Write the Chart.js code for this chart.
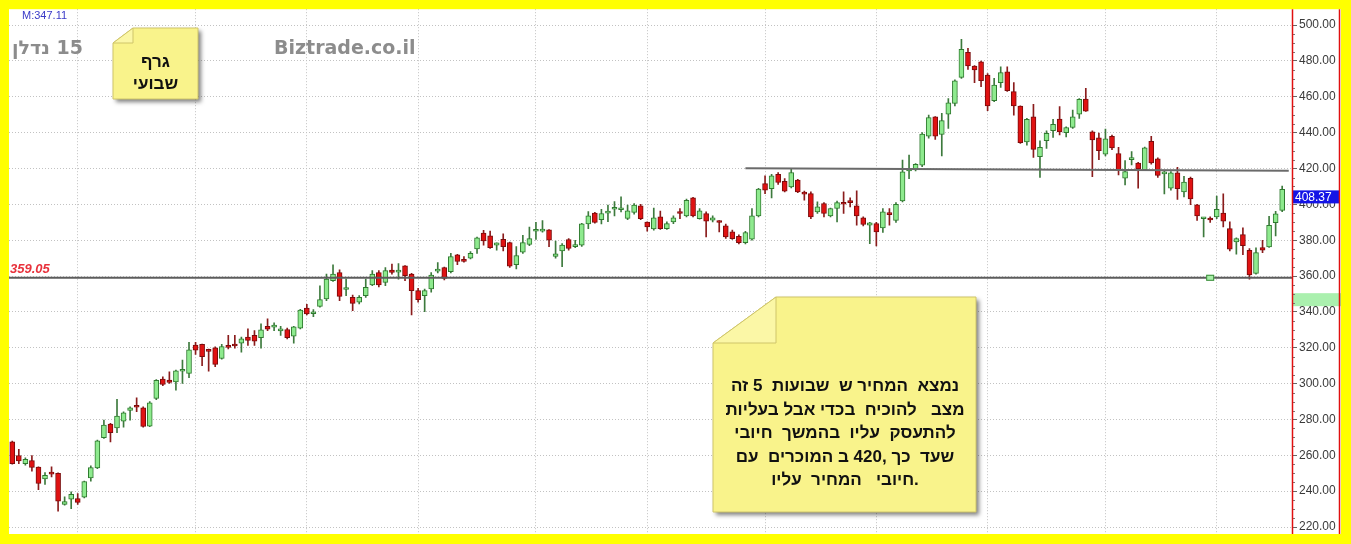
<!DOCTYPE html>
<html>
<head>
<meta charset="utf-8">
<script src="https://cdn.jsdelivr.net/npm/chart.js@4/dist/chart.umd.min.js"></script>
<style>
  html, body { margin: 0; padding: 0; background: #ffff00; }
  #wrap { position: relative; width: 1351px; height: 544px; overflow: hidden; background: #ffff00; }
  #chart { position: absolute; left: 0; top: 0; }
  .label { position: absolute; white-space: pre; }
  .title { font-family: 'DejaVu Sans', sans-serif; font-weight: bold; font-size: 19px; color: #8c8c8c; line-height: 22px; text-align: left; }
  .note { font-family: 'Liberation Sans', Arial, sans-serif; font-weight: bold; color: #111; text-align: center; }
</style>
</head>
<body>
<div id="wrap">
  <canvas id="chart" width="1351" height="544"></canvas>
  <div id="title" class="label title" dir="rtl" style="left:12px; top:36px;"></div>
  <div id="site" class="label title" dir="ltr" style="left:274px; top:36px;"></div>
  <div id="note1" class="label note" dir="rtl" style="left:113px; top:51px; width:85px; font-size:17px; line-height:21.5px;"></div>
  <div id="note2" class="label note" dir="rtl" style="left:713px; top:374px; width:264px; font-size:17px; line-height:23.5px;"></div>
</div>
<script>
// weekly candles
const opens = [
  267.5, 259.9, 255.4, 257.1, 253.4, 246.9, 250.0, 250.0, 232.6, 235.5,
  235.9, 236.7, 247.4, 253.0, 269.8, 277.4, 275.3, 279.1, 285.0, 287.3,
  286.5, 276.3, 291.7, 302.5, 302.0, 301.0, 306.9, 305.7, 321.5, 321.9,
  319.0, 320.0, 314.0, 321.3, 322.0, 322.6, 325.9, 326.9, 325.7, 332.0,
  331.5, 329.4, 330.2, 326.5, 330.9, 342.2, 339.0, 343.1, 347.2, 357.4,
  362.0, 352.5, 348.1, 345.4, 349.1, 355.0, 362.0, 356.5, 363.3, 362.2,
  365.7, 361.1, 351.9, 349.1, 352.8, 362.8, 364.7, 362.4, 371.8, 369.1,
  370.0, 375.1, 384.0, 382.4, 377.3, 380.5, 378.7, 366.4, 373.3, 377.6,
  385.0, 385.1, 385.8, 370.9, 374.0, 380.4, 376.4, 377.3, 389.1, 395.1,
  391.5, 395.1, 397.3, 397.0, 392.2, 395.5, 399.2, 390.1, 386.3, 393.0,
  386.5, 390.2, 395.8, 393.6, 403.6, 392.1, 394.9, 391.2, 390.6, 388.0,
  384.7, 382.2, 378.7, 380.6, 393.6, 411.6, 408.8, 416.7, 412.9, 409.8,
  413.5, 406.4, 406.0, 395.8, 400.5, 393.6, 397.7, 401.0, 401.5, 399.2,
  392.5, 388.4, 389.3, 386.9, 395.4, 391.0, 402.0, 418.7, 419.5, 421.9,
  438.1, 448.9, 439.0, 450.4, 456.4, 470.9, 484.8, 477.2, 479.6, 472.2,
  457.8, 467.9, 474.0, 462.9, 454.9, 434.9, 448.9, 426.6, 435.5, 441.1,
  447.6, 440.0, 442.9, 450.4, 458.7, 440.5, 437.1, 428.0, 438.0, 428.4,
  414.6, 425.0, 423.1, 419.4, 435.2, 425.4, 417.0, 409.1, 417.6, 406.9,
  414.6, 399.8, 392.0, 392.0, 393.0, 395.2, 386.5, 379.1, 383.1, 374.4,
  361.5, 375.9, 376.3, 389.8, 396.7
];
const highs = [
  268.0, 263.3, 258.6, 259.9, 253.6, 250.4, 253.6, 250.2, 236.8, 239.6,
  238.7, 245.6, 254.1, 268.5, 279.6, 277.8, 291.2, 284.3, 287.0, 292.1,
  287.0, 290.0, 302.3, 303.8, 306.6, 307.5, 313.1, 323.0, 323.0, 322.0,
  319.3, 320.5, 321.9, 326.9, 326.9, 326.0, 330.6, 329.6, 333.3, 336.1,
  333.9, 332.0, 331.0, 332.0, 341.5, 344.3, 341.3, 354.6, 361.1, 366.3,
  363.5, 358.3, 349.4, 349.1, 358.3, 363.0, 363.0, 364.8, 366.7, 367.0,
  365.9, 361.5, 353.1, 352.8, 362.0, 367.5, 365.0, 372.7, 372.2, 370.9,
  373.6, 381.8, 385.5, 385.1, 378.6, 383.6, 379.0, 376.4, 382.7, 387.3,
  390.0, 390.9, 386.0, 379.5, 378.2, 380.9, 380.0, 389.5, 396.0, 395.5,
  397.3, 399.6, 401.5, 404.2, 399.6, 400.5, 400.0, 390.2, 398.0, 396.2,
  390.2, 393.6, 397.7, 403.0, 404.0, 397.7, 395.8, 393.6, 391.0, 389.0,
  385.6, 383.0, 385.0, 397.7, 409.0, 415.9, 416.7, 417.8, 414.4, 420.0,
  414.0, 407.4, 407.0, 401.4, 401.0, 398.0, 401.8, 407.0, 403.6, 407.5,
  393.0, 390.0, 390.0, 397.7, 397.7, 401.0, 424.7, 427.5, 422.8, 440.0,
  449.8, 449.0, 450.8, 459.1, 469.5, 492.1, 487.1, 477.5, 480.0, 473.0,
  470.3, 476.8, 476.8, 467.9, 455.0, 448.0, 455.8, 435.5, 441.1, 447.4,
  454.5, 443.3, 452.6, 459.0, 464.7, 441.0, 439.8, 442.0, 438.7, 431.9,
  424.4, 429.4, 423.5, 432.0, 438.0, 426.0, 418.5, 418.3, 420.7, 415.7,
  415.2, 400.0, 392.6, 393.0, 404.6, 405.9, 390.2, 381.3, 386.9, 375.4,
  375.7, 380.0, 393.3, 396.1, 410.2
];
const lows = [
  255.0, 255.4, 254.5, 251.2, 240.9, 243.7, 248.0, 228.8, 232.2, 230.3,
  232.6, 236.2, 245.6, 252.5, 269.4, 267.5, 272.6, 275.7, 279.6, 284.3,
  275.7, 276.0, 291.0, 298.8, 300.1, 296.4, 300.1, 303.3, 316.3, 310.0,
  307.0, 309.5, 313.7, 319.4, 319.8, 317.6, 321.3, 321.3, 319.8, 329.6,
  329.6, 326.9, 325.0, 322.6, 330.5, 338.3, 337.4, 342.6, 346.3, 357.0,
  346.3, 349.1, 340.7, 344.4, 348.1, 354.6, 354.0, 354.6, 361.1, 358.3,
  357.4, 338.3, 345.4, 340.2, 351.0, 361.7, 357.8, 361.8, 366.4, 367.8,
  369.6, 372.7, 377.3, 375.5, 374.5, 374.0, 364.9, 364.0, 372.7, 376.9,
  380.5, 384.5, 376.4, 370.0, 365.3, 374.5, 375.8, 376.5, 386.4, 389.5,
  389.1, 390.4, 393.6, 395.8, 391.5, 394.5, 391.5, 385.0, 385.6, 386.1,
  386.1, 389.3, 392.1, 393.0, 393.0, 391.7, 381.9, 390.2, 384.7, 381.0,
  380.5, 378.0, 378.0, 380.0, 393.0, 406.0, 403.6, 411.1, 407.0, 409.2,
  406.5, 402.3, 392.0, 394.9, 393.0, 393.0, 390.2, 394.9, 398.6, 388.4,
  388.0, 378.1, 376.8, 384.3, 388.4, 390.0, 401.4, 414.4, 418.7, 421.0,
  437.0, 436.2, 427.0, 442.4, 455.0, 470.3, 475.3, 467.9, 465.7, 452.3,
  457.3, 465.3, 463.0, 449.8, 434.0, 433.1, 426.2, 415.0, 431.2, 437.4,
  438.7, 437.7, 442.4, 448.0, 451.8, 415.5, 425.0, 427.0, 430.5, 416.5,
  410.9, 422.0, 409.1, 419.0, 422.5, 415.0, 405.9, 408.0, 402.8, 404.1,
  399.8, 391.1, 381.9, 390.0, 392.0, 387.4, 374.0, 372.2, 372.0, 358.3,
  361.0, 373.1, 376.0, 382.4, 396.0
];
const closes = [
  255.4, 256.9, 257.7, 253.2, 244.3, 248.9, 249.5, 234.4, 234.2, 238.3,
  233.7, 245.4, 253.2, 268.1, 276.8, 272.7, 281.9, 283.7, 286.5, 286.8,
  276.1, 289.3, 301.8, 299.5, 300.7, 307.2, 307.5, 318.9, 318.7, 315.0,
  318.0, 310.7, 320.7, 320.2, 321.0, 325.0, 324.1, 323.7, 330.0, 330.4,
  332.0, 330.6, 325.7, 331.7, 341.1, 338.9, 340.0, 346.9, 358.3, 361.1,
  348.7, 353.0, 344.8, 348.1, 353.7, 361.1, 355.0, 363.0, 362.0, 363.0,
  360.2, 351.9, 346.9, 351.9, 360.6, 363.8, 358.7, 370.9, 368.2, 368.2,
  372.7, 381.3, 379.6, 375.8, 378.5, 376.4, 365.5, 371.5, 378.7, 380.9,
  385.5, 385.8, 380.0, 372.4, 377.3, 375.5, 377.3, 389.1, 393.6, 390.0,
  394.9, 396.0, 398.2, 397.5, 396.4, 399.6, 392.0, 387.4, 392.5, 386.5,
  389.3, 392.5, 394.9, 402.3, 393.6, 396.4, 390.6, 392.5, 389.9, 381.9,
  380.9, 378.7, 384.3, 393.6, 408.5, 407.9, 415.9, 412.2, 407.4, 417.8,
  407.0, 405.7, 393.0, 398.6, 394.9, 397.7, 401.0, 400.1, 401.0, 393.6,
  388.8, 389.7, 384.7, 395.8, 394.3, 400.0, 418.2, 419.5, 422.3, 439.2,
  448.5, 438.1, 446.7, 456.7, 469.0, 486.5, 477.2, 475.0, 469.0, 454.9,
  466.6, 473.5, 463.4, 454.9, 434.4, 447.4, 430.7, 431.8, 439.6, 444.6,
  440.5, 442.9, 448.9, 458.6, 452.0, 435.9, 430.0, 436.6, 431.5, 419.0,
  418.3, 425.5, 419.8, 431.5, 423.1, 416.1, 418.0, 417.6, 408.7, 412.4,
  403.1, 393.5, 392.5, 391.3, 397.2, 390.6, 375.0, 380.9, 376.9, 360.6,
  373.1, 374.4, 388.3, 394.8, 408.37
];

// one spare slot on the right, like the original
const weeks = Array.from({ length: opens.length + 1 }, (_, i) => 'W' + (i + 1));
const gridWeeks = [10, 28, 45, 62, 80, 97, 115, 132, 149, 167, 184];
const yTicks = [220, 240, 260, 280, 300, 320, 340, 360, 380, 400, 420, 440, 460, 480, 500];

const supportLevel = 359.05;
const supportMarkWeek = 183;
const resistance = [{ week: 112, price: 420.1 }, { week: 195, price: 418.8 }];
const lastPrice = 408.37;
const markPrice = 347.11;

// texts in logical (right-to-left) order
const titleText = '15 נדלן';
const siteText = 'Biztrade.co.il';
const note1Lines = ['גרף', 'שבועי'];
const note2Lines = [
  'נמצא  המחיר ש  שבועות  5 זה',
  'מצב   להוכיח  בכדי אבל בעליות',
  'להתעסק  עליו  בהמשך  חיובי',
  'שעד  כך ,420 ב המוכרים  עם',
  '.חיובי   המחיר  עליו'
];

document.getElementById('title').textContent = titleText;
document.getElementById('site').textContent = siteText;
document.getElementById('note1').textContent = note1Lines.join('\n');
document.getElementById('note2').textContent = note2Lines.join('\n');

const up = closes.map((c, i) => c >= opens[i]);

function drawNote(ctx, x, y, w, h, fold) {
  ctx.save();
  ctx.beginPath();
  ctx.moveTo(x, y + fold.h);
  ctx.lineTo(x + fold.w, y);
  ctx.lineTo(x + w, y);
  ctx.lineTo(x + w, y + h);
  ctx.lineTo(x, y + h);
  ctx.closePath();
  ctx.shadowColor = 'rgba(0,0,0,0.5)';
  ctx.shadowBlur = 4;
  ctx.shadowOffsetX = 3;
  ctx.shadowOffsetY = 3;
  ctx.fillStyle = '#f9f38b';
  ctx.fill();
  ctx.shadowColor = 'transparent';
  ctx.strokeStyle = '#cfc56a';
  ctx.lineWidth = 1;
  ctx.stroke();
  // folded corner
  ctx.beginPath();
  ctx.moveTo(x, y + fold.h);
  ctx.lineTo(x + fold.w, y);
  ctx.lineTo(x + fold.w, y + fold.h);
  ctx.closePath();
  ctx.fillStyle = '#fbf7a6';
  ctx.fill();
  ctx.stroke();
  ctx.restore();
}

const extras = {
  id: 'extras',
  beforeDraw(chart) {
    const { ctx, chartArea: a, scales: { y } } = chart;
    ctx.save();
    ctx.fillStyle = '#ffffff';
    ctx.fillRect(a.left, a.top, y.right - a.left, a.bottom - a.top);
    // marker band on the price axis
    const py = y.getPixelForValue(markPrice);
    ctx.fillStyle = '#aaf0ae';
    ctx.fillRect(a.right, py - 6, y.right - a.right, 13);
    ctx.fillStyle = '#3a3ac8';
    ctx.font = '11px "Liberation Sans"';
    ctx.fillText('M:' + markPrice.toFixed(2), a.left + 13, a.top + 10);
    ctx.restore();
  },
  afterDatasetsDraw(chart) {
    const { ctx, chartArea: a, scales: { x, y } } = chart;
    ctx.save();
    ctx.strokeStyle = '#5c5c5c';
    ctx.lineWidth = 2;
    const sy = y.getPixelForValue(supportLevel);
    ctx.beginPath();
    ctx.moveTo(a.left, sy);
    ctx.lineTo(a.right, sy);
    ctx.stroke();
    ctx.strokeStyle = '#6a6a6a';
    ctx.beginPath();
    ctx.moveTo(x.getPixelForValue(resistance[0].week), y.getPixelForValue(resistance[0].price));
    ctx.lineTo(x.getPixelForValue(resistance[1].week), y.getPixelForValue(resistance[1].price));
    ctx.stroke();
    // support label
    ctx.fillStyle = '#e8323c';
    ctx.font = 'italic bold 13px "Liberation Sans"';
    ctx.fillText(supportLevel.toFixed(2), a.left + 1, sy - 5);
    // small marker on the support line
    const mx = x.getPixelForValue(supportMarkWeek);
    ctx.fillStyle = '#a8eea8';
    ctx.strokeStyle = '#3b8a3b';
    ctx.lineWidth = 1;
    ctx.fillRect(mx - 4, sy - 3, 8, 6);
    ctx.strokeRect(mx - 4 + 0.5, sy - 3 + 0.5, 7, 5);
    ctx.restore();
  },
  afterDraw(chart) {
    const { ctx, chartArea: a, scales: { y } } = chart;
    ctx.save();
    // minor ticks on the price axis
    ctx.strokeStyle = '#777';
    ctx.lineWidth = 1;
    for (let v = 220; v <= 500; v += 5) {
      if (v % 20 === 0) continue;
      const py = Math.round(y.getPixelForValue(v)) + 0.5;
      ctx.beginPath();
      ctx.moveTo(a.right, py);
      ctx.lineTo(a.right + 3, py);
      ctx.stroke();
    }
    // last price box
    const ly = y.getPixelForValue(lastPrice);
    ctx.fillStyle = '#1414e6';
    ctx.fillRect(a.right, ly + 1, y.right - a.right - 2, 13);
    ctx.fillStyle = '#ffffff';
    ctx.font = '12px "Liberation Sans"';
    ctx.textBaseline = 'middle';
    ctx.fillText(lastPrice.toFixed(2), a.right + 3, ly + 8);
    // red axis frame
    ctx.strokeStyle = '#e01010';
    ctx.lineWidth = 1.5;
    ctx.beginPath();
    ctx.moveTo(a.right + 0.5, a.top);
    ctx.lineTo(a.right + 0.5, a.bottom);
    ctx.moveTo(y.right - 1.5, a.top);
    ctx.lineTo(y.right - 1.5, a.bottom);
    ctx.stroke();
    ctx.restore();
    drawNote(ctx, 113, 28, 85, 71, { w: 20, h: 15 });
    drawNote(ctx, 713, 297, 263, 215, { w: 63, h: 46 });
  }
};

new Chart(document.getElementById('chart'), {
  type: 'bar',
  data: {
    labels: weeks,
    datasets: [
      {
        label: 'body',
        data: opens.map((o, i) => [o, closes[i]]),
        backgroundColor: up.map(u => u ? '#8eea8e' : '#e01212'),
        borderColor: up.map(u => u ? '#2f7a2f' : '#7a0c0c'),
        borderWidth: 1,
        borderSkipped: false,
        barThickness: 5,
        minBarLength: 2,
        grouped: false,
        order: 1
      },
      {
        label: 'wick',
        data: lows.map((l, i) => [l, highs[i]]),
        backgroundColor: up.map(u => u ? '#3d7a3d' : '#8a1c1c'),
        borderWidth: 0,
        barThickness: 1,
        grouped: false,
        order: 2
      }
    ]
  },
  options: {
    responsive: false,
    animation: false,
    events: [],
    layout: { padding: { left: 9, top: 9, right: 10, bottom: 10 } },
    plugins: { legend: { display: false }, tooltip: { enabled: false } },
    scales: {
      x: {
        offset: true,
        ticks: { display: false, autoSkip: false },
        grid: {
          offset: false,
          drawTicks: false,
          color: c => gridWeeks.includes(c.index) ? '#c2c2c2' : 'rgba(0,0,0,0)'
        },
        border: { display: false, dash: [1, 2] },
        afterFit: ax => { ax.height = 0; }
      },
      y: {
        position: 'right',
        min: 216.1,
        max: 508.9,
        afterBuildTicks: ax => { ax.ticks = yTicks.map(v => ({ value: v })); },
        afterFit: ax => { ax.width = 49; },
        ticks: {
          callback: v => Number(v).toFixed(2),
          color: '#3a3a3a',
          padding: 2,
          font: { size: 12, family: 'Liberation Sans' }
        },
        grid: { color: '#c2c2c2', tickColor: '#666', tickLength: 5 },
        border: { display: false, dash: [1, 2] }
      }
    }
  },
  plugins: [extras]
});
</script>
</body>
</html>
